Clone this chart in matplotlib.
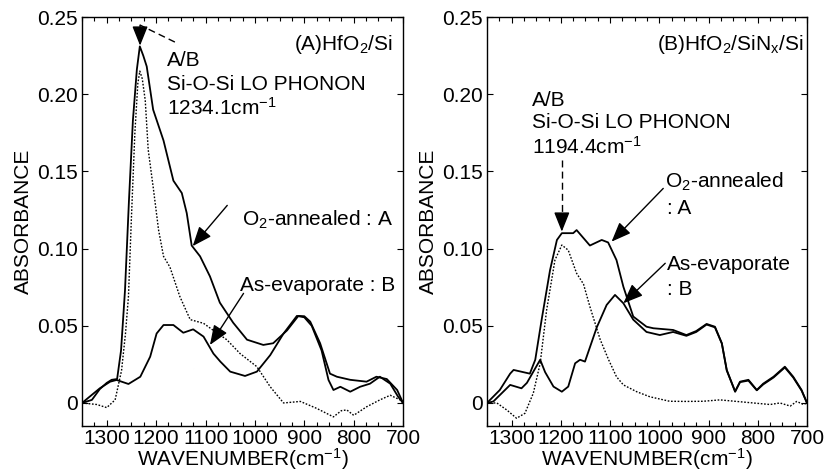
import numpy as np
import matplotlib
matplotlib.use("Agg")
import matplotlib.pyplot as plt
from matplotlib.ticker import MultipleLocator, FuncFormatter

plt.rcParams['font.family'] = ['Liberation Sans', 'DejaVu Sans']
plt.rcParams['mathtext.default'] = 'regular'
FS = 15

# ---- (A) HfO2/Si : wavenumber, absorbance ----
la_x = [1350, 1330, 1314, 1300, 1290, 1279, 1271, 1263, 1255, 1247, 1239, 1233, 1226, 1219,
        1206, 1185, 1165, 1148, 1138, 1128, 1111, 1091, 1071, 1044, 1016, 983, 963, 935,
        912, 900, 888, 868, 848, 834, 807, 774, 754, 733, 712, 700]
la_y = [0.0, 0.002, 0.009, 0.013, 0.015, 0.0155, 0.034, 0.073, 0.131, 0.183, 0.216, 0.231,
        0.225, 0.218, 0.190, 0.170, 0.144, 0.136, 0.123, 0.102, 0.095, 0.082, 0.065, 0.052,
        0.041, 0.0376, 0.0387, 0.047, 0.0564, 0.0562, 0.0527, 0.0387, 0.019, 0.017, 0.015,
        0.0138, 0.017, 0.0155, 0.0084, 0.0]
lb_x = [1350, 1314, 1293, 1280, 1256, 1232, 1212, 1199, 1185, 1165, 1145, 1125, 1104, 1084,
        1070, 1050, 1020, 996, 969, 942, 915, 900, 885, 865, 851, 841, 827, 807, 787, 767,
        747, 726, 710, 700]
lb_y = [0.0, 0.0095, 0.0138, 0.0149, 0.0123, 0.017, 0.030, 0.045, 0.0505, 0.0505, 0.0455,
        0.0477, 0.043, 0.032, 0.0268, 0.0203, 0.0175, 0.0203, 0.031, 0.045, 0.0564, 0.0555,
        0.050, 0.034, 0.0149, 0.0084, 0.0105, 0.0073, 0.0105, 0.0125, 0.017, 0.0125, 0.004, 0.0]
lr_x = [1350, 1320, 1300, 1283, 1270, 1262, 1256, 1250, 1243, 1237, 1233, 1228, 1222, 1216,
        1206, 1195, 1185, 1172, 1152, 1131, 1104, 1084, 1057, 1030, 996, 969, 942, 908, 875,
        841, 825, 814, 800, 774, 747, 726, 706, 700]
lr_y = [0.0, -0.001, -0.003, 0.002, 0.021, 0.045, 0.069, 0.12, 0.175, 0.207, 0.215, 0.210,
        0.196, 0.164, 0.140, 0.112, 0.095, 0.088, 0.069, 0.054, 0.0516, 0.047, 0.041, 0.032,
        0.0235, 0.0105, 0.0, 0.001, -0.0035, -0.009, -0.005, -0.0045, -0.008, -0.0025,
        0.002, 0.005, 0.002, 0.0]

# ---- (B) HfO2/SiNx/Si ----
ra_x = [1350, 1324, 1303, 1296, 1263, 1252, 1239, 1222, 1208, 1198, 1175, 1168, 1141, 1117,
        1104, 1087, 1073, 1053, 1026, 1012, 972, 945, 925, 904, 887, 873, 863, 846, 836,
        819, 802, 789, 768, 745, 728, 711, 700]
ra_y = [0.0, 0.0084, 0.019, 0.0214, 0.019, 0.028, 0.054, 0.086, 0.1056, 0.110, 0.110, 0.112,
        0.102, 0.1056, 0.104, 0.0926, 0.0753, 0.056, 0.0494, 0.0484, 0.0473, 0.044, 0.0466,
        0.0512, 0.0494, 0.0387, 0.0214, 0.0073, 0.0138, 0.015, 0.0084, 0.0125, 0.017,
        0.0235, 0.017, 0.0084, 0.0]
rb_x = [1350, 1337, 1303, 1280, 1269, 1242, 1232, 1215, 1198, 1185, 1171, 1161, 1151, 1127,
        1107, 1090, 1073, 1053, 1026, 999, 972, 945, 925, 904, 887, 873, 863, 846, 836,
        819, 802, 789, 768, 745, 728, 711, 700]
rb_y = [0.0, 0.001, 0.0117, 0.0095, 0.013, 0.028, 0.020, 0.0106, 0.0073, 0.0106, 0.0257,
        0.028, 0.0268, 0.049, 0.0635, 0.070, 0.0646, 0.054, 0.046, 0.044, 0.046, 0.0435,
        0.046, 0.0508, 0.049, 0.0385, 0.021, 0.0075, 0.0135, 0.0145, 0.0082, 0.012, 0.0165,
        0.023, 0.0165, 0.008, 0.0]
rr_x = [1350, 1330, 1310, 1290, 1273, 1256, 1242, 1229, 1212, 1198, 1185, 1168, 1154, 1141,
        1120, 1103, 1087, 1073, 1046, 1019, 979, 945, 911, 877, 843, 809, 775, 755, 734,
        721, 707, 700]
rr_y = [0.0, 0.0, -0.0045, -0.0099, -0.0067, 0.0063, 0.0257, 0.060, 0.0926, 0.1023, 0.099,
        0.084, 0.077, 0.0624, 0.041, 0.028, 0.017, 0.0117, 0.0073, 0.004, 0.0011, 0.001,
        0.0011, 0.002, 0.001, 0.0, -0.001, 0.0, -0.002, 0.001, -0.001, 0.0]

yticks = [0, 0.05, 0.10, 0.15, 0.20, 0.25]


def yfmt(v, pos):
    return '0' if abs(v) < 1e-9 else '%.2f' % v


def setup(ax):
    ax.set_xlim(1350, 700)
    ax.set_ylim(-0.015, 0.25)
    ax.set_xticks([1300, 1200, 1100, 1000, 900, 800, 700])
    ax.xaxis.set_minor_locator(MultipleLocator(25))
    ax.set_yticks(yticks)
    ax.yaxis.set_major_formatter(FuncFormatter(yfmt))
    ax.tick_params(which='both', direction='in', top=True, right=True, labelsize=FS)
    ax.tick_params(axis='x', pad=2)
    ax.tick_params(axis='y', pad=3)
    ax.tick_params(which='major', length=4, width=0.8)
    ax.tick_params(which='minor', length=3, width=0.8)
    ax.set_xlabel('WAVENUMBER(cm$^{-1}$)', fontsize=FS, labelpad=-1)
    ax.set_ylabel('ABSORBANCE', fontsize=FS, labelpad=3)
    for s in ax.spines.values():
        s.set_linewidth(1.0)


def arrow(ax, tip, tail):
    ax.annotate('', xy=tip, xytext=tail,
                arrowprops=dict(arrowstyle='-|>,head_length=0.8,head_width=0.32', color='k',
                                lw=1.0, shrinkA=0, shrinkB=0, mutation_scale=15))


fig = plt.figure(figsize=(8.26, 4.74), dpi=100)
ax1 = fig.add_axes([0.0993, 0.101, 0.3887, 0.863])
ax2 = fig.add_axes([0.5896, 0.101, 0.3874, 0.863])

# left panel
ax1.plot(la_x, la_y, color='k', lw=1.3)
ax1.plot(lb_x, lb_y, color='k', lw=1.3)
ax1.plot(lr_x, lr_y, color='k', lw=1.0, ls=(0, (1.2, 1.2)))
setup(ax1)
ax1.text(720, 0.232, '(A)HfO$_2$/Si', fontsize=FS, ha='right', va='center')
ax1.text(1178, 0.222, 'A/B', fontsize=FS, va='center')
ax1.text(1178, 0.206, 'Si-O-Si LO PHONON', fontsize=FS, va='center')
ax1.text(1178, 0.191, '1234.1cm$^{-1}$', fontsize=FS, va='center')
ax1.plot([1162, 1232.5], [0.2338, 0.2448], color='k', lw=1.0, ls=(0, (5, 3)))
arrow(ax1, (1232.5, 0.2315), (1232.5, 0.2448))
ax1.text(720, 0.1185, 'O$_2$-annealed : A', fontsize=FS, ha='right', va='center')
arrow(ax1, (1126, 0.1016), (1056, 0.128))
ax1.text(716, 0.0764, 'As-evaporate : B', fontsize=FS, ha='right', va='center')
arrow(ax1, (1091, 0.0376), (1023, 0.071))

# right panel
ax2.plot(ra_x, ra_y, color='k', lw=1.3)
ax2.plot(rb_x, rb_y, color='k', lw=1.3)
ax2.plot(rr_x, rr_y, color='k', lw=1.0, ls=(0, (1.2, 1.2)))
setup(ax2)
ax2.text(708, 0.232, '(B)HfO$_2$/SiN$_x$/Si', fontsize=FS, ha='right', va='center')
ax2.text(1259, 0.196, 'A/B', fontsize=FS, va='center')
ax2.text(1259, 0.182, 'Si-O-Si LO PHONON', fontsize=FS, va='center')
ax2.text(1259, 0.166, '1194.4cm$^{-1}$', fontsize=FS, va='center')
ax2.plot([1198, 1198], [0.1574, 0.120], color='k', lw=1.0, ls=(0, (5, 3)))
arrow(ax2, (1198, 0.111), (1198, 0.121))
ax2.text(988, 0.143, 'O$_2$-annealed', fontsize=FS, va='center')
ax2.text(985, 0.126, ': A', fontsize=FS, va='center')
arrow(ax2, (1097, 0.1045), (992, 0.139))
ax2.text(985, 0.0894, 'As-evaporate', fontsize=FS, va='center')
ax2.text(985, 0.0732, ': B', fontsize=FS, va='center')
arrow(ax2, (1073, 0.0646), (988, 0.0905))

fig.savefig('out.png', dpi=100)
